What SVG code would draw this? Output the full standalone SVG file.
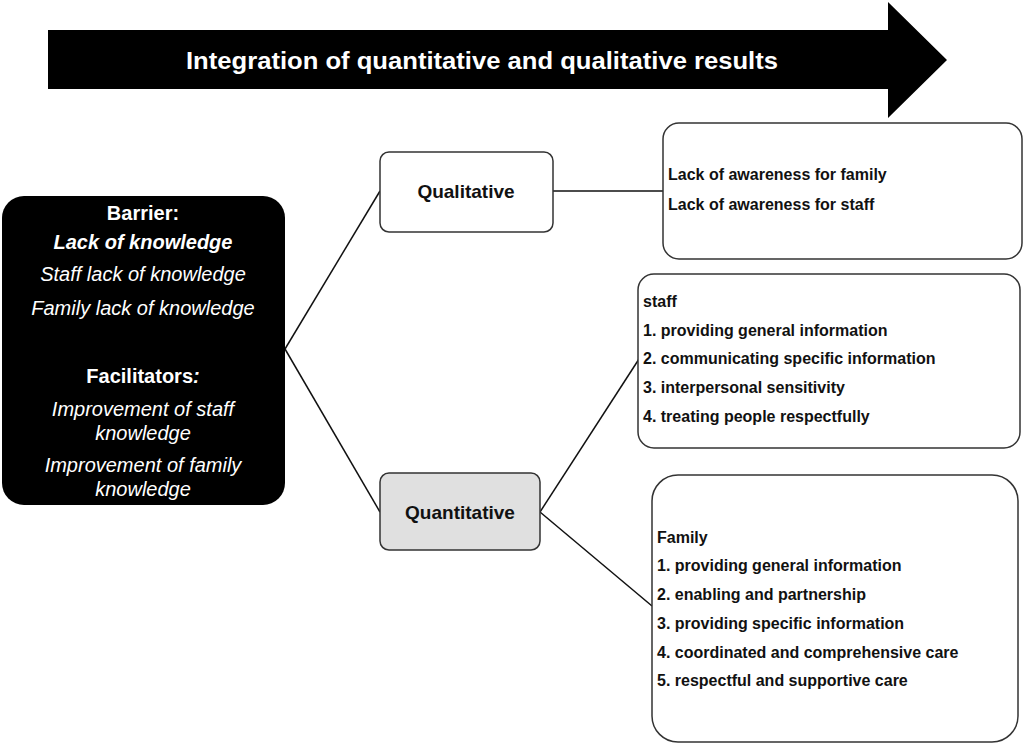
<svg xmlns="http://www.w3.org/2000/svg" width="1026" height="745" viewBox="0 0 1026 745">
<style>
.box{fill:#fff;stroke:#333;stroke-width:1.5}
.t{font-family:"Liberation Sans",Arial,sans-serif;font-weight:bold;fill:#111}
.w{font-family:"Liberation Sans",Arial,sans-serif;fill:#fff;font-size:20px;text-anchor:middle}
.it{font-style:italic}
.lst{font-size:16px}
.conn line{stroke:#111;stroke-width:1.5}
</style>
<rect width="1026" height="745" fill="#fff"/>
<g id="banner">
<polygon points="48,30 888,30 888,2 947,60 888,118 888,89 48,89" fill="#000"/>
<text x="482" y="69" font-family="Liberation Sans,Arial,sans-serif" font-weight="bold" font-size="24" fill="#fff" text-anchor="middle" textLength="592" lengthAdjust="spacingAndGlyphs">Integration of quantitative and qualitative results</text>
</g>
<g class="conn">
<line x1="285" y1="349" x2="380" y2="191"/>
<line x1="285" y1="349" x2="380" y2="512"/>
<line x1="553" y1="191" x2="663" y2="191"/>
<line x1="540" y1="512" x2="639" y2="359"/>
<line x1="540" y1="512" x2="652" y2="606"/>
</g>
<g id="barrier">
<rect x="2" y="196" width="283" height="309" rx="22" fill="#000"/>
<text class="w" x="143" y="220" font-weight="bold">Barrier:</text>
<text class="w it" x="143" y="249" font-weight="bold">Lack of knowledge</text>
<text class="w it" x="143" y="281">Staff lack of knowledge</text>
<text class="w it" x="143" y="315">Family lack of knowledge</text>
<text class="w" x="143" y="383" font-weight="bold">Facilitators<tspan font-style="italic">:</tspan></text>
<text class="w it" x="143" y="416">Improvement of staff</text>
<text class="w it" x="143" y="440">knowledge</text>
<text class="w it" x="143" y="472">Improvement of family</text>
<text class="w it" x="143" y="496">knowledge</text>
</g>
<g id="qualitative">
<rect class="box" x="380" y="152" width="173" height="80" rx="9"/>
<text class="t" x="466" y="198" font-size="19" text-anchor="middle">Qualitative</text>
</g>
<g id="quantitative">
<rect class="box" x="380" y="473" width="160" height="77" rx="9" style="fill:#e0e0e0"/>
<text class="t" x="460" y="519" font-size="19" text-anchor="middle">Quantitative</text>
</g>
<g id="awareness">
<rect class="box" x="663" y="123" width="359" height="136" rx="16"/>
<text class="t lst" x="668" y="180">Lack of awareness for family</text>
<text class="t lst" x="668" y="210">Lack of awareness for staff</text>
</g>
<g id="staff">
<rect class="box" x="638" y="274" width="382" height="174" rx="16"/>
<text class="t lst" x="643" y="307">staff</text>
<text class="t lst" x="643" y="336">1. providing general information</text>
<text class="t lst" x="643" y="364">2. communicating specific information</text>
<text class="t lst" x="643" y="393">3. interpersonal sensitivity</text>
<text class="t lst" x="643" y="422">4. treating people respectfully</text>
</g>
<g id="family">
<rect class="box" x="652" y="475" width="366" height="267" rx="26"/>
<text class="t lst" x="657" y="543">Family</text>
<text class="t lst" x="657" y="571">1. providing general information</text>
<text class="t lst" x="657" y="600">2. enabling and partnership</text>
<text class="t lst" x="657" y="629">3. providing specific information</text>
<text class="t lst" x="657" y="658">4. coordinated and comprehensive care</text>
<text class="t lst" x="657" y="686">5. respectful and supportive care</text>
</g>
</svg>
